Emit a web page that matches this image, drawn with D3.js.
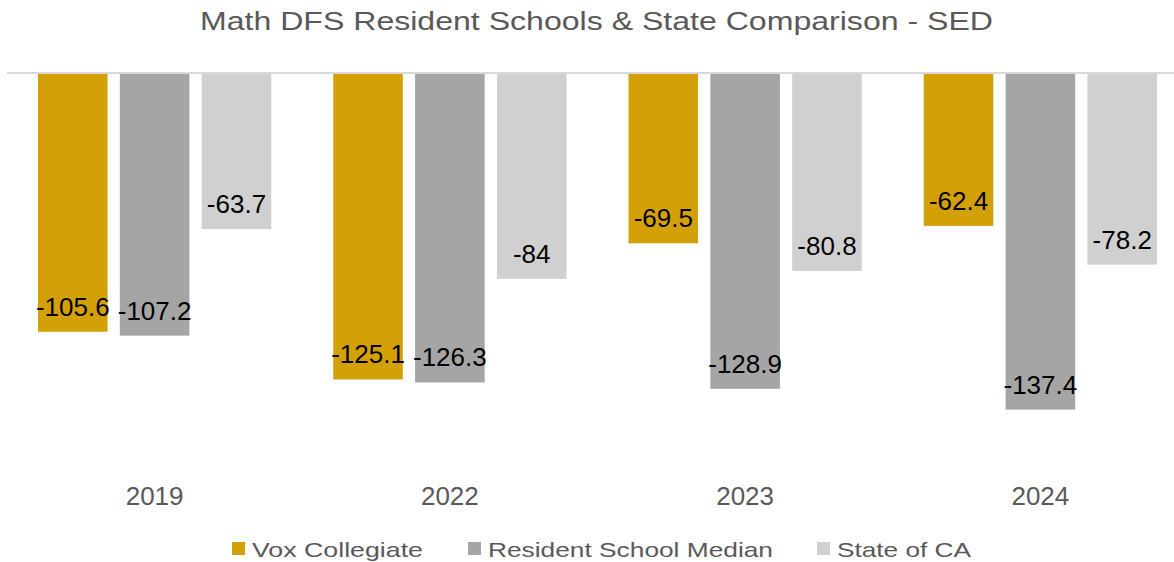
<!DOCTYPE html>
<html>
<head>
<meta charset="utf-8">
<script src="https://cdn.jsdelivr.net/npm/d3@7"></script>
<style>
  body { margin: 0; background: #fff; }
  svg { display: block; font-family: "Liberation Sans", Arial, sans-serif; }
</style>
</head>
<body>
<svg id="chart" width="1174" height="562"></svg>
<script>
// chart data
var years = ['2019', '2022', '2023', '2024'];
var seriesNames = ['Vox Collegiate', 'Resident School Median', 'State of CA'];
var voxValues = [-105.6, -125.1, -69.5, -62.4];
var residentValues = [-107.2, -126.3, -128.9, -137.4];
var stateValues = [-63.7, -84, -80.8, -78.2];
var colors = ['#D4A007', '#A5A5A5', '#D0D0D0'];

var svg = d3.select('#chart');

var allSeries = [voxValues, residentValues, stateValues];
var rows = years.map(function (y, i) {
  return { year: y, values: allSeries.map(function (s, j) { return { key: seriesNames[j], idx: j, value: s[i] }; }) };
});

// scales
var x0 = d3.scaleBand().domain(years).range([7, 1188]).paddingInner(0).paddingOuter(0);
var x1 = d3.scaleBand().domain(d3.range(3)).range([31, x0.bandwidth() - 31]).paddingInner(0.15).paddingOuter(0);
var y = d3.scaleLinear().domain([0, -160]).range([73, 465]);

// title (text in the original is drawn wider than the font, stretch it)
svg.append('text')
  .attr('x', 200)
  .attr('y', 30)
  .attr('textLength', 793)
  .attr('lengthAdjust', 'spacingAndGlyphs')
  .style('font-size', '26.5px')
  .style('fill', '#595959')
  .text('Math DFS Resident Schools & State Comparison - SED');

// bars
var groups = svg.selectAll('g.year')
  .data(rows)
  .enter()
  .append('g')
  .attr('class', 'year')
  .attr('transform', d => `translate(${x0(d.year)},0)`);

groups.selectAll('rect')
  .data(d => d.values)
  .enter()
  .append('rect')
  .attr('x', d => x1(d.idx))
  .attr('y', y(0))
  .attr('width', x1.bandwidth())
  .attr('height', d => y(d.value) - y(0))
  .style('fill', d => colors[d.idx]);

// data labels, inside end
groups.selectAll('text.lbl')
  .data(d => d.values)
  .enter()
  .append('text')
  .attr('class', 'lbl')
  .attr('x', d => x1(d.idx) + x1.bandwidth() / 2)
  .attr('y', d => y(d.value) - 16)
  .attr('text-anchor', 'middle')
  .style('font-size', '26px')
  .style('fill', '#000')
  .text(d => d.value);

// zero line
svg.append('line')
  .attr('x1', 7)
  .attr('x2', 1174)
  .attr('y1', y(0))
  .attr('y2', y(0))
  .style('stroke', '#D9D9D9')
  .style('stroke-width', 2);

// category axis labels
svg.append('g')
  .selectAll('text')
  .data(years)
  .enter()
  .append('text')
  .attr('x', d => x0(d) + x0.bandwidth() / 2)
  .attr('y', 505)
  .attr('text-anchor', 'middle')
  .style('font-size', '26px')
  .style('fill', '#595959')
  .text(d => d);

// legend
var legendX = [232, 468, 817];
var legendLen = [171, 285, 134];
var legend = svg.append('g')
  .selectAll('g')
  .data(seriesNames)
  .enter()
  .append('g')
  .attr('transform', (d, i) => `translate(${legendX[i]},542)`);

legend.append('rect')
  .attr('x', 0)
  .attr('y', 0)
  .attr('width', 13)
  .attr('height', 13)
  .style('fill', (d, i) => colors[i]);

legend.append('text')
  .attr('x', 20)
  .attr('y', 15)
  .attr('textLength', (d, i) => legendLen[i])
  .attr('lengthAdjust', 'spacingAndGlyphs')
  .style('font-size', '21px')
  .style('fill', '#595959')
  .text(d => d);
</script>
</body>
</html>
